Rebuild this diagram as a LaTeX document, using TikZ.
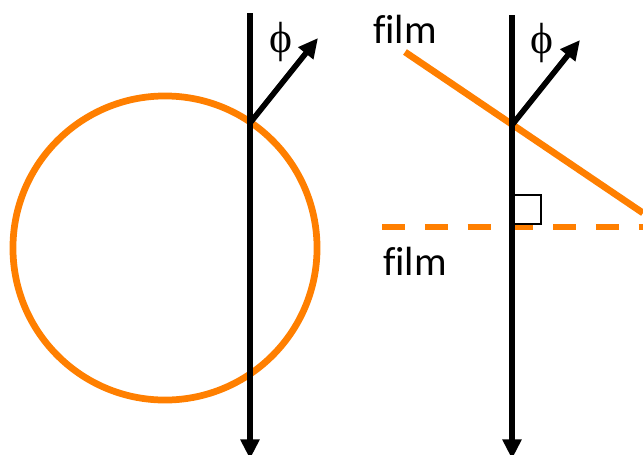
\documentclass[tikz,border=0pt]{standalone}
\usepackage{fontspec}
\setmainfont{Carlito}[Ligatures=NoCommon]
\newfontfamily\symfont{Liberation Serif}
\usetikzlibrary{arrows.meta}
\definecolor{filmc}{RGB}{255,127,0}
\tikzset{
  beam/.style   = {-{Triangle[length=14pt,width=13pt]}, line width=4pt, black},
  film/.style   = {filmc, line width=4.8pt},
  filmd/.style  = {film, dash pattern=on 16.4pt off 14pt},
  rangle/.style = {draw, line width=1.8pt},
  lab/.style    = {font=\fontsize{29}{30}\selectfont, inner sep=0pt, anchor=base},
  philab/.style = {font=\symfont\fontsize{31}{31}\selectfont, inner sep=0pt},
}
\begin{document}
\begin{tikzpicture}[x=0.025cm, y=-0.025cm]
\useasboundingbox (0,0) rectangle (643,454);

% ---- left: curved film ----
\coordinate (topL) at (250,13);
\coordinate (botL) at (250,459);
\coordinate (hitL) at (250,123);
\coordinate (tipL) at (318,38);
\draw[film] (165,248) circle[radius=3.8cm];
\draw[beam] (topL) -- (botL);
\draw[beam] (hitL) -- (tipL);
\node[philab] (phiL) at (281,42) {ϕ};

% ---- right: tilted film ----
\coordinate (topR) at (512,15);
\coordinate (botR) at (512,459);
\coordinate (hitR) at (512,125);
\coordinate (tipR) at (580,40);
\coordinate (filmA) at (405,52);
\coordinate (filmZ) at (643,213);
\coordinate (flatA) at (382,227);
\coordinate (flatZ) at (643,227);
\draw[film] (filmA) -- (filmZ);
\draw[filmd] (flatA) -- (flatZ);
\draw[beam] (topR) -- (botR);
\draw[beam] (hitR) -- (tipR);
\draw[rangle] (513,195) rectangle (541,224);
\node[philab] (phiR) at (542,43) {ϕ};
\node[lab] (filmT) at (405,43) {film};
\node[lab] (filmB) at (415,275) {film};

\end{tikzpicture}
\end{document}
